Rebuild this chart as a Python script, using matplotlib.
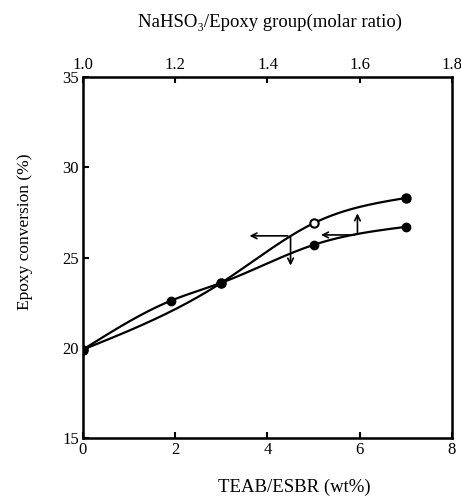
import numpy as np
import matplotlib
matplotlib.use("Agg")
import matplotlib.pyplot as plt

plt.rcParams['font.family'] = ['Liberation Serif', 'DejaVu Serif']

# TEAB/ESBR series (bottom axis)
teab_x = [0, 1.9, 3.0, 5.0, 7.0]
teab_y = [19.9, 22.6, 23.6, 25.7, 26.7]

# NaHSO3/Epoxy series (top axis)
na_x = [1.0, 1.3, 1.5, 1.7]
na_y = [19.9, 23.6, 26.9, 28.3]
na_filled = [True, True, False, True]


def smooth(x, y, n=200):
    # natural cubic spline through the points (just for drawing the curve)
    x = np.asarray(x, float)
    y = np.asarray(y, float)
    N = len(x)
    h = np.diff(x)
    A = np.zeros((N, N))
    b = np.zeros(N)
    A[0, 0] = A[-1, -1] = 1
    for i in range(1, N - 1):
        A[i, i - 1] = h[i - 1]
        A[i, i] = 2 * (h[i - 1] + h[i])
        A[i, i + 1] = h[i]
        b[i] = 6 * ((y[i + 1] - y[i]) / h[i] - (y[i] - y[i - 1]) / h[i - 1])
    M = np.linalg.solve(A, b)
    xs = np.linspace(x[0], x[-1], n)
    k = np.clip(np.searchsorted(x, xs) - 1, 0, N - 2)
    a = x[k + 1] - xs
    c = xs - x[k]
    hk = h[k]
    ys = (M[k] * a**3 / (6 * hk) + M[k + 1] * c**3 / (6 * hk)
          + (y[k] / hk - M[k] * hk / 6) * a + (y[k + 1] / hk - M[k + 1] * hk / 6) * c)
    return xs, ys


fig = plt.figure(figsize=(4.61, 4.99), dpi=100)
ax = fig.add_axes([0.18, 0.1222, 0.8005, 0.7235])

xs, ys = smooth(teab_x, teab_y)
ax.plot(xs, ys, color='black', lw=1.6)
ax.plot(teab_x, teab_y, 'o', color='black', ms=6)

ax.set_xlim(0, 8)
ax.set_ylim(15, 35)
ax.set_xticks([0, 2, 4, 6, 8])
ax.set_yticks([15, 20, 25, 30, 35])
ax.tick_params(direction='in', length=4, width=1.5, labelsize=12, pad=3)
for s in ax.spines.values():
    s.set_linewidth(1.8)

ax2 = ax.twiny()
ax2.set_xlim(1.0, 1.8)
ax2.set_xticks([1.0, 1.2, 1.4, 1.6, 1.8])
ax2.set_xticklabels(['1.0', '1.2', '1.4', '1.6', '1.8'])
ax2.tick_params(direction='in', length=4, width=1.5, labelsize=12, pad=3)
xs2, ys2 = smooth(na_x, na_y)
ax2.plot(xs2, ys2, color='black', lw=1.6)
for x, y, f in zip(na_x, na_y, na_filled):
    ax2.plot(x, y, 'o', ms=6, mec='black', mew=1.5,
             mfc='black' if f else 'white')

# arrows pointing at the axes
ap = dict(arrowstyle='->', color='black', lw=1.2)
ax.annotate('', xy=(3.55, 26.2), xytext=(4.5, 26.2), arrowprops=ap)
ax.annotate('', xy=(4.5, 24.4), xytext=(4.5, 26.25), arrowprops=ap)
ax.annotate('', xy=(5.1, 26.25), xytext=(5.95, 26.25), arrowprops=ap)
ax.annotate('', xy=(5.95, 27.6), xytext=(5.95, 26.2), arrowprops=ap)

fig.text(0.586, 0.956, 'NaHSO\u2083/Epoxy group(molar ratio)', ha='center', va='center', fontsize=13.5)
fig.text(0.638, 0.024, 'TEAB/ESBR (wt%)', ha='center', va='center', fontsize=13.5)
fig.text(0.054, 0.535, 'Epoxy conversion (%)', ha='center', va='center', rotation=90, fontsize=12.5)

fig.savefig('out.png', dpi=100)
